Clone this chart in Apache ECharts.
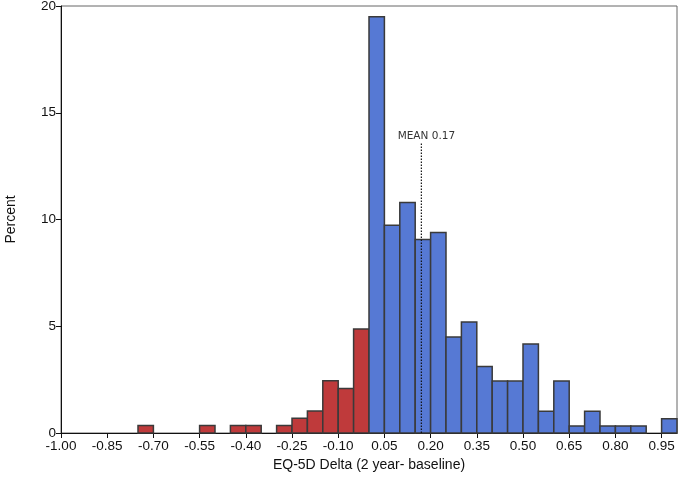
<!DOCTYPE html>
<html>
<head>
<meta charset="utf-8">
<script src="https://cdn.jsdelivr.net/npm/echarts@6/dist/echarts.min.js"></script>
<style>html,body{margin:0;padding:0;background:#fff}#c{width:684px;height:488px}</style>
</head>
<body>
<div id="c"></div>
<script>
// Histogram bins (width 0.05), left edges
var binStarts = [-1.00,-0.95,-0.90,-0.85,-0.80,-0.75,-0.70,-0.65,-0.60,-0.55,-0.50,-0.45,-0.40,-0.35,-0.30,-0.25,-0.20,-0.15,-0.10,-0.05,
                 0.00,0.05,0.10,0.15,0.20,0.25,0.30,0.35,0.40,0.45,0.50,0.55,0.60,0.65,0.70,0.75,0.80,0.85,0.90,0.95];
var binWidth = 0.05;
var percents = [0,0,0,0,0,0.35,0,0,0,0.35,0,0.35,0.35,0,0.35,0.69,1.03,2.45,2.08,4.87,
                19.5,9.73,10.8,9.06,9.39,4.5,5.2,3.12,2.43,2.43,4.17,1.02,2.43,0.33,1.02,0.33,0.33,0.33,0,0.67];
var meanValue = 0.17;
var meanLineTop = 13.6;
var xTickStart = -1.0, xTickStep = 0.15, xMax = 1.0;
var yTicks = [0,5,10,15,20];

var histData = binStarts.map(function(s,i){ return [s, s+binWidth, percents[i]]; });

var chart = echarts.init(document.getElementById('c'));
chart.setOption({
  animation: false,
  grid: {left: 61, right: 7, top: 6, bottom: 55, show: true, borderColor: '#666', borderWidth: 1,
         containLabel: false, outerBoundsMode: 'none'},
  xAxis: {
    type: 'value', min: xTickStart, max: xMax, interval: xTickStep,
    name: 'EQ-5D Delta (2 year- baseline)', nameLocation: 'middle', nameGap: 25,
    nameTextStyle: {fontFamily: 'Liberation Sans', fontSize: 14, color: '#111'},
    axisLine: {show: true, onZero: false, lineStyle: {color: '#111', width: 1}},
    axisTick: {show: true, length: 5, lineStyle: {color: '#111'}},
    axisLabel: {fontFamily: 'Liberation Sans', fontSize: 13.5, color: '#111', margin: 6, showMaxLabel: false,
      formatter: function(v){ return (Math.round(v*100)/100).toFixed(2); }},
    splitLine: {show: false}
  },
  yAxis: {
    type: 'value', min: 0, max: yTicks[yTicks.length-1], interval: 5,
    name: 'Percent', nameLocation: 'middle', nameGap: 43, nameRotate: 90,
    nameTextStyle: {fontFamily: 'Liberation Sans', fontSize: 14, color: '#111'},
    axisLine: {show: true, onZero: false, lineStyle: {color: '#111', width: 1}},
    axisTick: {show: true, length: 5, lineStyle: {color: '#111'}},
    axisLabel: {fontFamily: 'Liberation Sans', fontSize: 13.5, color: '#111', margin: 5},
    splitLine: {show: false}
  },
  series: [{
    type: 'custom',
    data: histData,
    encode: {x: [0,1], y: 2},
    renderItem: function(params, api){
      var x0 = api.value(0), x1 = api.value(1), h = api.value(2);
      if (h <= 0) return null;
      var p0 = api.coord([x0, h]);
      var p1 = api.coord([x1, 0]);
      var color = x0 < 0 ? '#BF3A3B' : '#5679D4';
      return {
        type: 'rect',
        shape: {x: p0[0], y: p0[1], width: p1[0]-p0[0], height: p1[1]-p0[1]},
        style: {fill: color, stroke: '#3a3a3a', lineWidth: 1.5}
      };
    }
  }, {
    type: 'line',
    data: [[meanValue, 0], [meanValue, meanLineTop]],
    symbol: 'none',
    lineStyle: {type: [1.5, 1.5], color: '#111', width: 1.2},
    markPoint: {
      symbol: 'circle', symbolSize: 0,
      data: [{coord: [meanValue, meanLineTop],
        label: {show: true, formatter: 'MEAN ' + meanValue.toFixed(2), position: 'top', distance: 1, offset: [5, 0],
          fontFamily: 'DejaVu Sans', fontSize: 10.5, color: '#333'}}]
    },
    z: 5
  }]
});
</script>
</body>
</html>
